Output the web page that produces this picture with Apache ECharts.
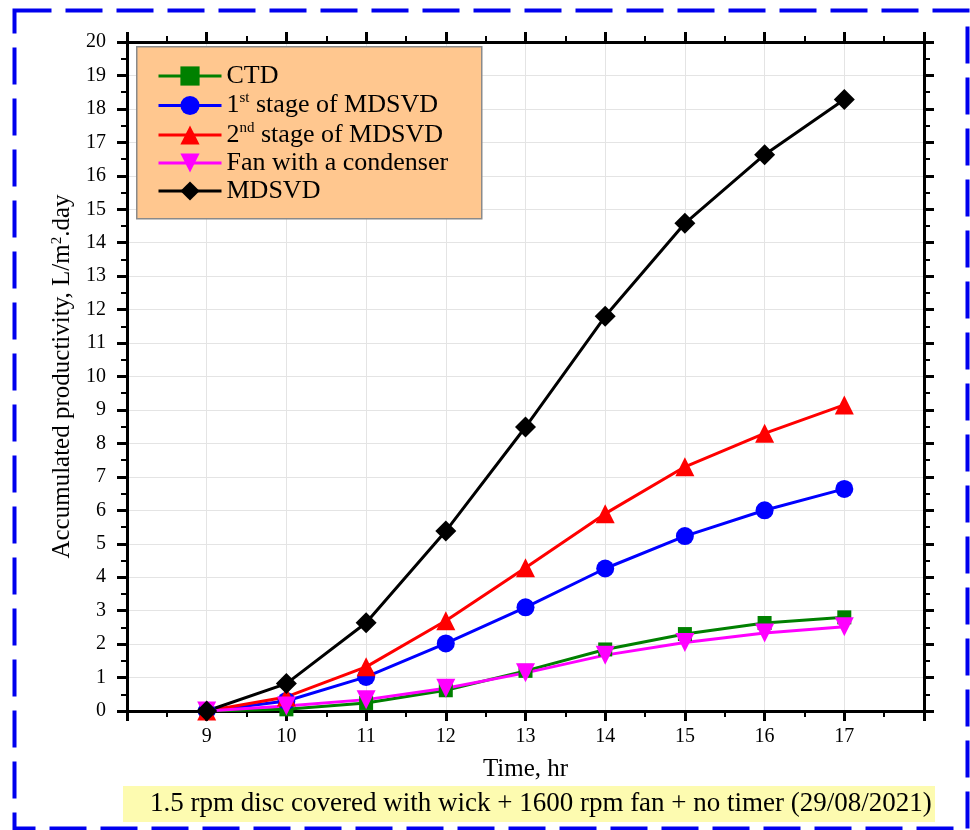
<!DOCTYPE html>
<html>
<head>
<meta charset="utf-8">
<script src="https://cdn.jsdelivr.net/npm/echarts@6/dist/echarts.min.js"></script>
<style>
  html, body { margin: 0; padding: 0; background: #fff; }
  #chart { width: 970px; height: 830px; }
</style>
</head>
<body>
<div id="chart"></div>
<script>
const hours = [9, 10, 11, 12, 13, 14, 15, 16, 17];
const ctd = [0, 0.05, 0.24, 0.62, 1.2, 1.84, 2.3, 2.63, 2.8];
const stage1 = [0, 0.3, 1.02, 2.02, 3.1, 4.26, 5.23, 6.0, 6.64];
const stage2 = [0, 0.42, 1.32, 2.7, 4.28, 5.9, 7.3, 8.3, 9.15];
const fanCondenser = [0, 0.15, 0.34, 0.68, 1.14, 1.67, 2.05, 2.33, 2.52];
const mdsvd = [0, 0.82, 2.64, 5.38, 8.49, 11.8, 14.58, 16.63, 18.28];

const serif = "'Liberation Serif', 'DejaVu Serif', serif";

function pairs(values) {
  return hours.map((h, i) => [h, values[i]]);
}

function makeSeries(name, values, color, symbol, size) {
  return {
    name: name,
    type: "line",
    data: pairs(values),
    symbol: symbol,
    symbolSize: size,
    itemStyle: { color: color },
    lineStyle: { color: color, width: 3 },
    z: 3
  };
}

const chart = echarts.init(document.getElementById("chart"), null, { renderer: "canvas" });

const axisLine = { show: true, onZero: false, lineStyle: { color: "#000", width: 3 } };
const axisTick = { show: true, inside: false, length: 10, lineStyle: { color: "#000", width: 3 } };
const minorTick = { show: true, splitNumber: 2, length: 6, lineStyle: { color: "#000", width: 2 } };

chart.setOption({
  animation: false,
  backgroundColor: "#fff",
  grid: { left: 127, right: 46, top: 42, bottom: 119 },
  xAxis: [
    {
      type: "value", min: 8, max: 18, interval: 1, position: "bottom",
      axisLine: axisLine, axisTick: axisTick, minorTick: minorTick,
      splitLine: { show: true, lineStyle: { color: "#e4e4e4", width: 1 } },
      axisLabel: {
        color: "#000", fontFamily: serif, fontSize: 20, margin: 16,
        formatter: (v) => (v < 9 || v > 17 ? "" : String(v))
      },
      name: "Time, hr", nameLocation: "middle", nameGap: 46,
      nameTextStyle: { color: "#000", fontFamily: serif, fontSize: 25 }
    },
    {
      type: "value", min: 8, max: 18, interval: 1, position: "top",
      axisLine: axisLine, axisTick: axisTick, minorTick: minorTick,
      splitLine: { show: false }, axisLabel: { show: false }
    }
  ],
  yAxis: [
    {
      type: "value", min: 0, max: 20, interval: 1, position: "left",
      axisLine: axisLine, axisTick: axisTick, minorTick: minorTick,
      splitLine: { show: true, lineStyle: { color: "#e4e4e4", width: 1 } },
      axisLabel: { color: "#000", fontFamily: serif, fontSize: 20, margin: 21 },
      name: "Accumulated productivity, L/m{sup|2}.day", nameLocation: "middle", nameGap: 50,
      nameTextStyle: {
        color: "#000", fontFamily: serif, fontSize: 25,
        rich: { sup: { fontFamily: serif, fontSize: 15, color: "#000", padding: [0, 0, 12, 0] } }
      }
    },
    {
      type: "value", min: 0, max: 20, interval: 1, position: "right",
      axisLine: axisLine, axisTick: axisTick, minorTick: minorTick,
      splitLine: { show: false }, axisLabel: { show: false }
    }
  ],
  legend: {
    orient: "vertical",
    left: 157,
    top: 63,
    padding: 0,
    itemWidth: 63,
    itemHeight: 24,
    itemGap: 2,
    z: 6,
    lineStyle: { width: 3 },
    data: ["CTD", "1st stage of MDSVD", "2nd stage of MDSVD", "Fan with a condenser", "MDSVD"],
    formatter: (name) => name.replace(/^(\d)(st|nd) /, "$1{sup|$2} "),
    textStyle: {
      color: "#000", fontFamily: serif, fontSize: 26, lineHeight: 20,
      rich: { sup: { fontFamily: serif, fontSize: 15, color: "#000", padding: [0, 0, 14, 0] } }
    }
  },
  graphic: [
    {
      type: "rect", left: 136, top: 46, z: 5,
      shape: { width: 345, height: 172 },
      style: { fill: "#ffc78f", stroke: "#8a8a8a", lineWidth: 1.5 }
    },
    {
      type: "rect", left: 123, top: 786, z: 1,
      shape: { width: 812, height: 36 },
      style: { fill: "#fdfbb0" }
    },
    {
      type: "text", left: 150, top: 790, z: 2,
      style: {
        text: "1.5 rpm disc covered with wick + 1600 rpm fan + no timer (29/08/2021)",
        font: "27px " + serif, fill: "#000"
      }
    },
    {
      type: "rect", left: 12, top: 8, z: 1,
      shape: { width: 953, height: 818 },
      style: { fill: "none", stroke: "#0000ee", lineWidth: 4, lineDash: [37, 14] }
    }
  ],
  series: [
    makeSeries("CTD", ctd, "#008000", "rect", 14),
    makeSeries("1st stage of MDSVD", stage1, "#0000ff", "circle", 18),
    makeSeries("2nd stage of MDSVD", stage2, "#ff0000", "triangle", 19),
    makeSeries("Fan with a condenser", fanCondenser, "#ff00ff", "path://M0,0 L10,0 L5,9 Z", 19),
    makeSeries("MDSVD", mdsvd, "#000000", "diamond", 21)
  ]
});
</script>
</body>
</html>
